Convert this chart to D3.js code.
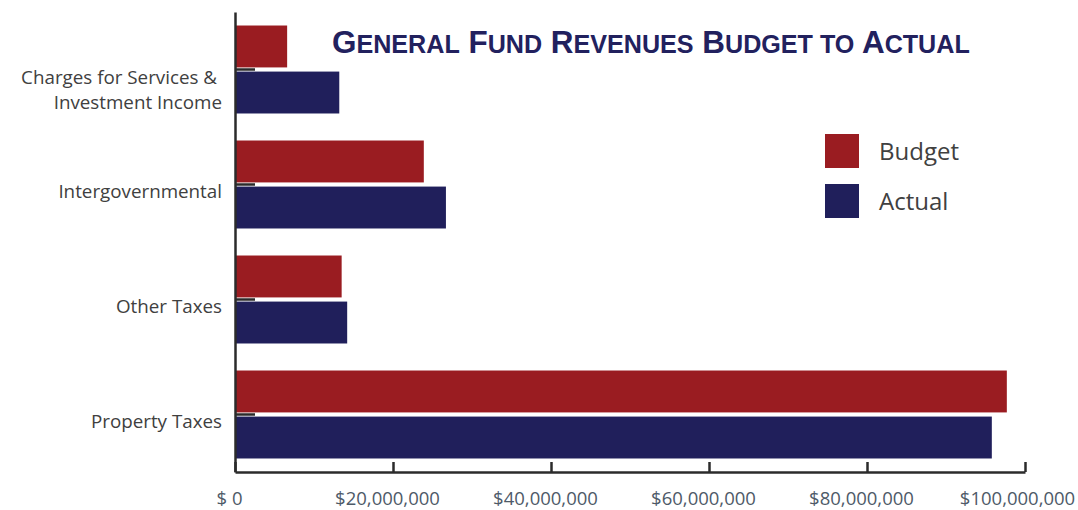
<!DOCTYPE html>
<html>
<head>
<meta charset="utf-8">
<script src="https://cdn.jsdelivr.net/npm/d3@7/dist/d3.min.js"></script>
<style>
  html, body { margin: 0; padding: 0; background: #ffffff; }
  svg { display: block; }
</style>
</head>
<body>
<svg id="chart" width="1078" height="510"></svg>
<script>
// Revenue categories (top to bottom) and their display lines
const categories = ["Charges for Services & Investment Income", "Intergovernmental", "Other Taxes", "Property Taxes"];
const categoryLines = [["Charges for Services &", "Investment Income"], ["Intergovernmental"], ["Other Taxes"], ["Property Taxes"]];

// Dollar amounts per category
const budget = [6600000, 23900000, 13500000, 97700000];
const actual = [13200000, 26700000, 14200000, 95800000];

const seriesNames = ["Budget", "Actual"];
const seriesColors = ["#9a1c21", "#201f5b"];

const tickValues = [0, 20000000, 40000000, 60000000, 80000000, 100000000];
const tickLabels = ["$ 0", "$20,000,000", "$40,000,000", "$60,000,000", "$80,000,000", "$100,000,000"];

const svg = d3.select("#chart");
const textFont = "'Open Sans', 'Noto Sans', sans-serif";

const x = d3.scaleLinear().domain([0, 100000000]).range([235, 1025]);
const y = d3.scaleBand().domain(categories).range([12, 472]).paddingInner(0.235).paddingOuter(0.1175);
const ySub = d3.scaleBand().domain(seriesNames).range([0, y.bandwidth()]).paddingInner(0.09);

const rows = categories.map((c, i) => ({ cat: c, values: [budget[i], actual[i]] }));

// Bars
const groups = svg.append("g").selectAll("g")
  .data(rows).join("g")
  .attr("transform", d => `translate(0,${y(d.cat)})`);

groups.selectAll("rect")
  .data(d => d.values.map((v, j) => ({ v, s: seriesNames[j], j })))
  .join("rect")
  .attr("x", x(0))
  .attr("y", d => ySub(d.s))
  .attr("width", d => x(d.v) - x(0))
  .attr("height", ySub.bandwidth())
  .attr("fill", d => seriesColors[d.j]);

// Y axis: spine with short ticks between each pair of bars
const yAxis = svg.append("g")
  .attr("transform", `translate(${x(0)},0)`)
  .call(d3.axisRight(y).tickSize(20).tickSizeOuter(0).tickFormat(""));
yAxis.select(".domain").attr("stroke", "#2b2b2b").attr("stroke-width", 2.5);
yAxis.selectAll(".tick line").attr("stroke", "#2b2b2b").attr("stroke-width", 2.5);

// Category labels
const labels = svg.append("g");
categories.forEach((c, i) => {
  const lines = categoryLines[i];
  const cy = y(c) + y.bandwidth() / 2;
  const t = labels.append("text")
    .attr("text-anchor", "end")
    .attr("font-family", textFont)
    .attr("font-size", 18.8)
    .attr("fill", "#404040");
  if (lines.length === 1) {
    t.attr("x", 222).attr("y", cy + 13).text(lines[0]);
  } else {
    lines.forEach((ln, k) => {
      t.append("tspan").attr("x", k === 0 ? 217 : 222).attr("y", cy + 14 + k * 25).text(ln);
    });
  }
});

// X axis with upward ticks
const xAxis = svg.append("g")
  .attr("transform", "translate(0,472)")
  .call(d3.axisBottom(x).tickValues(tickValues).tickSize(-10).tickSizeOuter(0)
    .tickFormat((d, i) => tickLabels[i]));
xAxis.select(".domain").attr("stroke", "#2b2b2b").attr("stroke-width", 2.5);
xAxis.selectAll(".tick line").attr("stroke", "#2b2b2b").attr("stroke-width", 2.5);
xAxis.selectAll(".tick text")
  .attr("y", 33)
  .attr("dy", 0)
  .attr("dx", (d, i) => i === tickValues.length - 1 ? -8 : -6)
  .attr("font-family", textFont)
  .attr("font-size", 18.5)
  .attr("fill", "#4e5a68");

// Legend
const legend = svg.append("g");
seriesNames.forEach((s, i) => {
  legend.append("rect")
    .attr("x", 825).attr("y", 134 + i * 50)
    .attr("width", 34).attr("height", 34)
    .attr("fill", seriesColors[i]);
  legend.append("text")
    .attr("x", 879).attr("y", 160 + i * 50)
    .attr("font-family", textFont)
    .attr("font-size", 24)
    .attr("fill", "#404040")
    .text(s);
});

// Title in small caps, sized to span its width
const titleWords = ["General", "Fund", "Revenues", "Budget", "to", "Actual"];
const titleWidth = 638;
const title = svg.append("text")
  .attr("x", 332).attr("y", 53)
  .attr("font-family", "'Liberation Sans', Arial, sans-serif")
  .attr("font-weight", "bold")
  .attr("fill", "#22215e");
const spans = [];
titleWords.forEach((w, i) => {
  const first = w[0];
  const isCap = first === first.toUpperCase();
  spans.push(title.append("tspan").datum(isCap ? 1 : 0.8)
    .text((i > 0 ? " " : "") + first.toUpperCase()));
  spans.push(title.append("tspan").datum(0.8).text(w.slice(1).toUpperCase()));
});
function sizeTitle(base) {
  spans.forEach(s => s.attr("font-size", s.datum() * base));
}
sizeTitle(36);
const natural = title.node().getComputedTextLength();
sizeTitle(36 * titleWidth / natural);
</script>
</body>
</html>
